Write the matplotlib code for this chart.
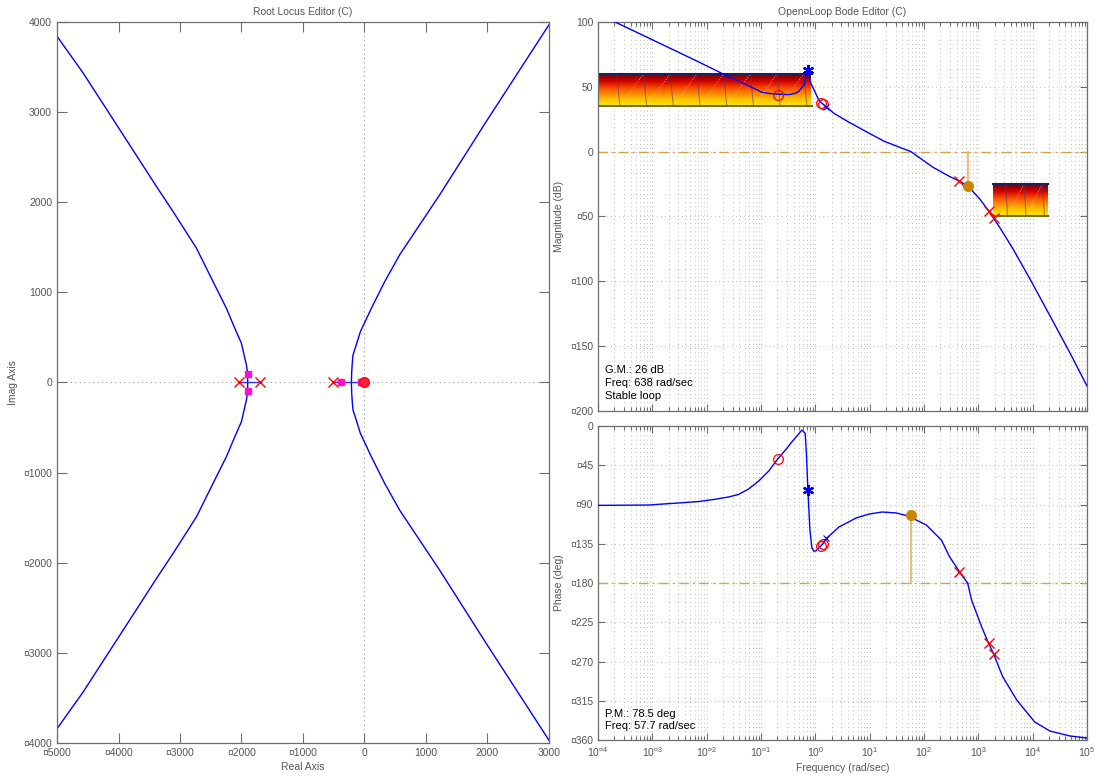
import numpy as np
import matplotlib
matplotlib.use('Agg')
import matplotlib.pyplot as plt
from matplotlib.ticker import FixedLocator, FuncFormatter, LogLocator, NullFormatter
from matplotlib.colors import LinearSegmentedColormap

plt.rcParams['font.family'] = ['Liberation Sans', 'DejaVu Sans']

# ---- root locus (upper half, lower half is the mirror image) ----
rl_left_re = [-1900, -1899, -1920, -1964, -2002, -2109, -2246, -2463, -2733, -3114, -3384,
              -3980, -4577, -5000]
rl_left_im = [0, 94, 194, 324, 436, 602, 824, 1120, 1491, 1898, 2176,
              2806, 3436, 3842]
rl_right_re = [-213, -208, -197, -187, -143, -67, 112, 329, 572, 1223, 1982, 3000]
rl_right_im = [0, 120, 231, 306, 398, 564, 824, 1120, 1417, 2083, 2898, 3970]
rl_real_segments = [(-2046, -1704), (-517, 0)]
ol_poles_re = [-2046, -1704, -517]
cl_poles_re = [-1899, -1899, -388, -60]
cl_poles_im = [94, -94, 0, 0]
ol_zeros_re = [0]

# ---- open loop bode ----
mag_w = [1e-4, 2.06e-4, 1.29e-3, 7.05e-3, 0.0222, 0.0591, 0.103, 0.139, 0.212, 0.324,
         0.438, 0.497, 0.615, 0.698, 0.730, 0.828, 1.16, 1.32, 2.20, 4.17, 9.77, 18.5,
         35.0, 57.7, 144.5, 294, 450, 638, 1054, 1614, 2466, 4345, 8850, 20750, 48530, 1e5]
mag_db = [106, 100, 84.1, 69.3, 59.0, 50.8, 45.9, 44.9, 44.3, 44.0,
          45.1, 46.6, 51.3, 60.6, 63.7, 52.8, 39.7, 37.4, 29.6, 22.7, 14.2, 8.0,
          3.5, 0.0, -11.9, -19.1, -22.7, -26.5, -36.3, -46.7, -58.3, -75.0, -97.9, -126.5,
          -155.2, -180.7]
ph_w = [1e-4, 8.4e-4, 3.0e-3, 7.05e-3, 0.0133, 0.0252, 0.0386, 0.0591, 0.0906, 0.139,
        0.203, 0.286, 0.369, 0.476, 0.565, 0.650, 0.685, 0.730, 0.794, 0.865, 0.94, 1.02,
        1.32, 1.64, 2.72, 5.62, 9.77, 17.0, 30.8, 51.4, 110, 209, 294, 450, 638, 750,
        1148, 1545, 1914, 2805, 5093, 10940, 20750, 48530, 1e5]
ph_deg = [-91, -90.6, -88.3, -86.6, -84.3, -81.4, -78.5, -72.2, -63.1, -51.6,
          -37.8, -27.0, -18.3, -10.3, -4.6, -8.4, -31.0, -73.4, -119.2, -139.9, -143.5, -143.3,
          -136.4, -128.4, -115.8, -105.5, -100.9, -98.6, -99.7, -103.2, -113.5, -130.7, -149.7,
          -167.0, -180.3, -199.5, -230.1, -249.2, -261.4, -287.4, -314.2, -339.4, -349.7,
          -355.4, -357.7]

# compensator / plant markers
zero_w = [0.203]
zero_db = [43.6]
zero_ph = [-37.8]
cpx_zero_w = [1.28, 1.40]
cpx_zero_db = [37.9, 36.6]
cpx_zero_ph = [-137.2, -135.3]
cpx_pole_w = [0.730]
cpx_pole_db = [63.0]
cpx_pole_ph = [-73.4]
cl_w = [1.60]
cl_db = [34.3]
cl_ph = [-128.8]
pole_w = [450, 1580, 1914]
pole_db = [-22.7, -46.0, -50.8]
pole_ph = [-167.0, -249.0, -261.4]

# margins
gm_w, gm_db = 638, -26.5
pm_w, pm_ph = 57.7, -101.5

# design constraint boxes: (w_lo, w_hi, db_lo, db_hi, segments)
boxes = [(1e-4, 0.86, 35, 60, 8), (1833, 19000, -50, -25, 3)]

grey = '#555555'
spine = '#6e6e6e'
orange_dot = '#c98505'
orange_line = '#eab060'
orange_dash = '#d5a24a'
pink = '#ff10c8'


def neg(v):
    return '¤%d' % -v if v < 0 else '%d' % v


def style(ax, major=6, minor=3):
    for s in ax.spines.values():
        s.set_color(spine)
        s.set_linewidth(0.9)
    ax.tick_params(which='both', direction='in', top=True, right=True,
                   colors=spine, labelcolor=grey, labelsize=7.5, width=0.8)
    ax.tick_params(which='major', length=major)
    ax.tick_params(which='minor', length=minor)


fig = plt.figure(figsize=(10.95, 7.8), dpi=100)

# ----------------- root locus -----------------
ax = fig.add_axes([57 / 1095, 1 - 743 / 780, 492 / 1095, 721 / 780])
ax.axhline(0, color='#999999', ls=(0, (1, 3)), lw=0.8, zorder=1)
ax.axvline(0, color='#999999', ls=(0, (1, 3)), lw=0.8, zorder=1)
for re, im in [(rl_left_re, rl_left_im), (rl_right_re, rl_right_im)]:
    ax.plot(re, im, color='#0000ff', lw=1.0, zorder=2)
    ax.plot(re, [-v for v in im], color='#0000ff', lw=1.0, zorder=2)
for a, b in rl_real_segments:
    ax.plot([a, b], [0, 0], color='#3030ff', lw=1.0, zorder=2)
ax.plot(ol_poles_re, [0] * len(ol_poles_re), 'x', color='red', ms=7, mew=1.0, zorder=4)
ax.plot(cl_poles_re, cl_poles_im, 's', color=pink, ms=5, zorder=5)
ax.plot(ol_zeros_re, [0] * len(ol_zeros_re), 'o', color='red', mfc='#ff2040', ms=7, zorder=6)
ax.set_xlim(-5000, 3000)
ax.set_ylim(-4000, 4000)
ax.xaxis.set_major_locator(FixedLocator(np.arange(-5000, 3001, 1000)))
ax.yaxis.set_major_locator(FixedLocator(np.arange(-4000, 4001, 1000)))
ax.xaxis.set_major_formatter(FuncFormatter(lambda v, p: neg(v)))
ax.yaxis.set_major_formatter(FuncFormatter(lambda v, p: neg(v)))
style(ax, major=7)
ax.set_title('Root Locus Editor (C)', fontsize=7.5, color=grey, pad=5)
ax.set_xlabel('Real Axis', fontsize=7.5, color=grey, labelpad=3)
ax.set_ylabel('Imag Axis', fontsize=7.5, color=grey, labelpad=4)

# ----------------- bode -----------------
axm = fig.add_axes([598 / 1095, 1 - 411 / 780, 489 / 1095, 389 / 780])
axp = fig.add_axes([598 / 1095, 1 - 740 / 780, 489 / 1095, 314 / 780])

cmap_box = LinearSegmentedColormap.from_list(
    'box', ['#ffe800', '#ffb000', '#ff5a00', '#d40000', '#6e0000'])


def constraint(a, w0, w1, lo, hi, nseg):
    grad = np.linspace(0, 1, 64).reshape(-1, 1)
    a.imshow(grad, cmap=cmap_box, aspect='auto', extent=[w0, w1, lo, hi],
             origin='lower', interpolation='bilinear', zorder=1)
    l0, l1 = np.log10(w0), np.log10(w1)
    step = (l1 - l0) / nseg
    d = step * 0.12
    for k in range(nseg):
        t = l0 + k * step + step * 0.7
        if t + d < l1:
            a.plot([10 ** t, 10 ** (t + d)], [hi, lo], color='#4a4070', alpha=0.55, lw=0.8, zorder=2)
        t2 = t + step
        if t2 < l1:
            a.plot([10 ** (t + d), 10 ** t2], [lo, hi], color='white', alpha=0.6, lw=0.6,
                   ls=(0, (1.5, 1.5)), zorder=2)
    a.plot([w0, w1], [hi, hi], color='#20205a', lw=1.5, zorder=2)
    a.plot([w0, w1], [lo, lo], color='#707000', lw=1.5, zorder=2)


for w0, w1, lo, hi, n in boxes:
    constraint(axm, w0, w1, lo, hi, n)

axm.axhline(0, color=orange_dash, lw=1.0, ls=(0, (7, 3, 1.5, 3)), zorder=2)
axm.plot([gm_w, gm_w], [0, gm_db], color=orange_line, lw=1.2, zorder=2)
axm.plot(mag_w, mag_db, color='#0000ff', lw=1.0, zorder=3)
axm.plot(gm_w, gm_db, 'o', color=orange_dot, ms=7, zorder=5)
axm.plot(zero_w, zero_db, 'o', mfc='none', mec='red', ms=7, mew=0.9, zorder=4)
axm.plot(cpx_zero_w, cpx_zero_db, 'o', mfc='none', mec='red', ms=7, mew=0.9, zorder=4)
axm.plot(cpx_pole_w, cpx_pole_db, marker=(6, 2, 0), color='#0000ff', ms=8, mew=1.6, ls='none', zorder=4)
axm.plot(cl_w, cl_db, 'x', color='#0000ff', ms=4, mew=0.8, zorder=4)
axm.plot(pole_w, pole_db, 'x', color='red', ms=7, mew=1.0, zorder=4)

axp.axhline(-180, color=orange_dash, lw=1.0, ls=(0, (7, 3, 1.5, 3)), zorder=2)
axp.plot([pm_w, pm_w], [-180, pm_ph], color=orange_line, lw=1.2, zorder=2)
axp.plot(ph_w, ph_deg, color='#0000ff', lw=1.0, zorder=3)
axp.plot(pm_w, pm_ph, 'o', color=orange_dot, ms=7, zorder=5)
axp.plot(zero_w, zero_ph, 'o', mfc='none', mec='red', ms=7, mew=0.9, zorder=4)
axp.plot(cpx_zero_w, cpx_zero_ph, 'o', mfc='none', mec='red', ms=7, mew=0.9, zorder=4)
axp.plot(cpx_pole_w, cpx_pole_ph, marker=(6, 2, 0), color='#0000ff', ms=8, mew=1.6, ls='none', zorder=4)
axp.plot(cl_w, cl_ph, 'x', color='#0000ff', ms=4, mew=0.8, zorder=4)
axp.plot(pole_w, pole_ph, 'x', color='red', ms=7, mew=1.0, zorder=4)


def exp_label(v, p):
    e = int(round(np.log10(v)))
    return '$\\mathregular{10^{%s}}$' % neg(e)


for a in (axm, axp):
    a.set_xscale('log')
    a.set_xlim(1e-4, 1e5)
    a.xaxis.set_major_locator(LogLocator(base=10, numticks=15))
    a.xaxis.set_minor_locator(LogLocator(base=10, subs=np.arange(2, 10), numticks=15))
    a.xaxis.set_minor_formatter(NullFormatter())
    a.grid(True, which='both', axis='x', color='#a8a8a8', ls=(0, (1, 4)), lw=0.6, zorder=0)
    a.grid(True, which='major', axis='y', color='#a8a8a8', ls=(0, (1, 4)), lw=0.6, zorder=0)
    a.set_axisbelow(True)
    style(a, major=5, minor=3)

axm.set_ylim(-200, 100)
axm.yaxis.set_major_locator(FixedLocator(np.arange(-200, 101, 50)))
axm.yaxis.set_major_formatter(FuncFormatter(lambda v, p: neg(v)))
axm.xaxis.set_major_formatter(NullFormatter())
axm.set_title('Open¤Loop Bode Editor (C)', fontsize=7.5, color=grey, pad=5)
axm.set_ylabel('Magnitude (dB)', fontsize=7.5, color=grey, labelpad=4)

axp.set_ylim(-360, 0)
axp.yaxis.set_major_locator(FixedLocator(np.arange(-360, 1, 45)))
axp.yaxis.set_major_formatter(FuncFormatter(lambda v, p: neg(v)))
axp.xaxis.set_major_formatter(FuncFormatter(exp_label))
axp.set_xlabel('Frequency (rad/sec)', fontsize=7.5, color=grey, labelpad=3)
axp.set_ylabel('Phase (deg)', fontsize=7.5, color=grey, labelpad=4)

# margin read-outs
tx = 7 / 489
axm.text(tx, 0.1054, 'G.M.: 26 dB', transform=axm.transAxes, fontsize=8, va='center')
axm.text(tx, 0.072, 'Freq: 638 rad/sec', transform=axm.transAxes, fontsize=8, va='center')
axm.text(tx, 0.0386, 'Stable loop', transform=axm.transAxes, fontsize=8, va='center')
axp.text(tx, 0.083, 'P.M.: 78.5 deg', transform=axp.transAxes, fontsize=8, va='center')
axp.text(tx, 0.043, 'Freq: 57.7 rad/sec', transform=axp.transAxes, fontsize=8, va='center')

fig.savefig('out.png', dpi=100)
